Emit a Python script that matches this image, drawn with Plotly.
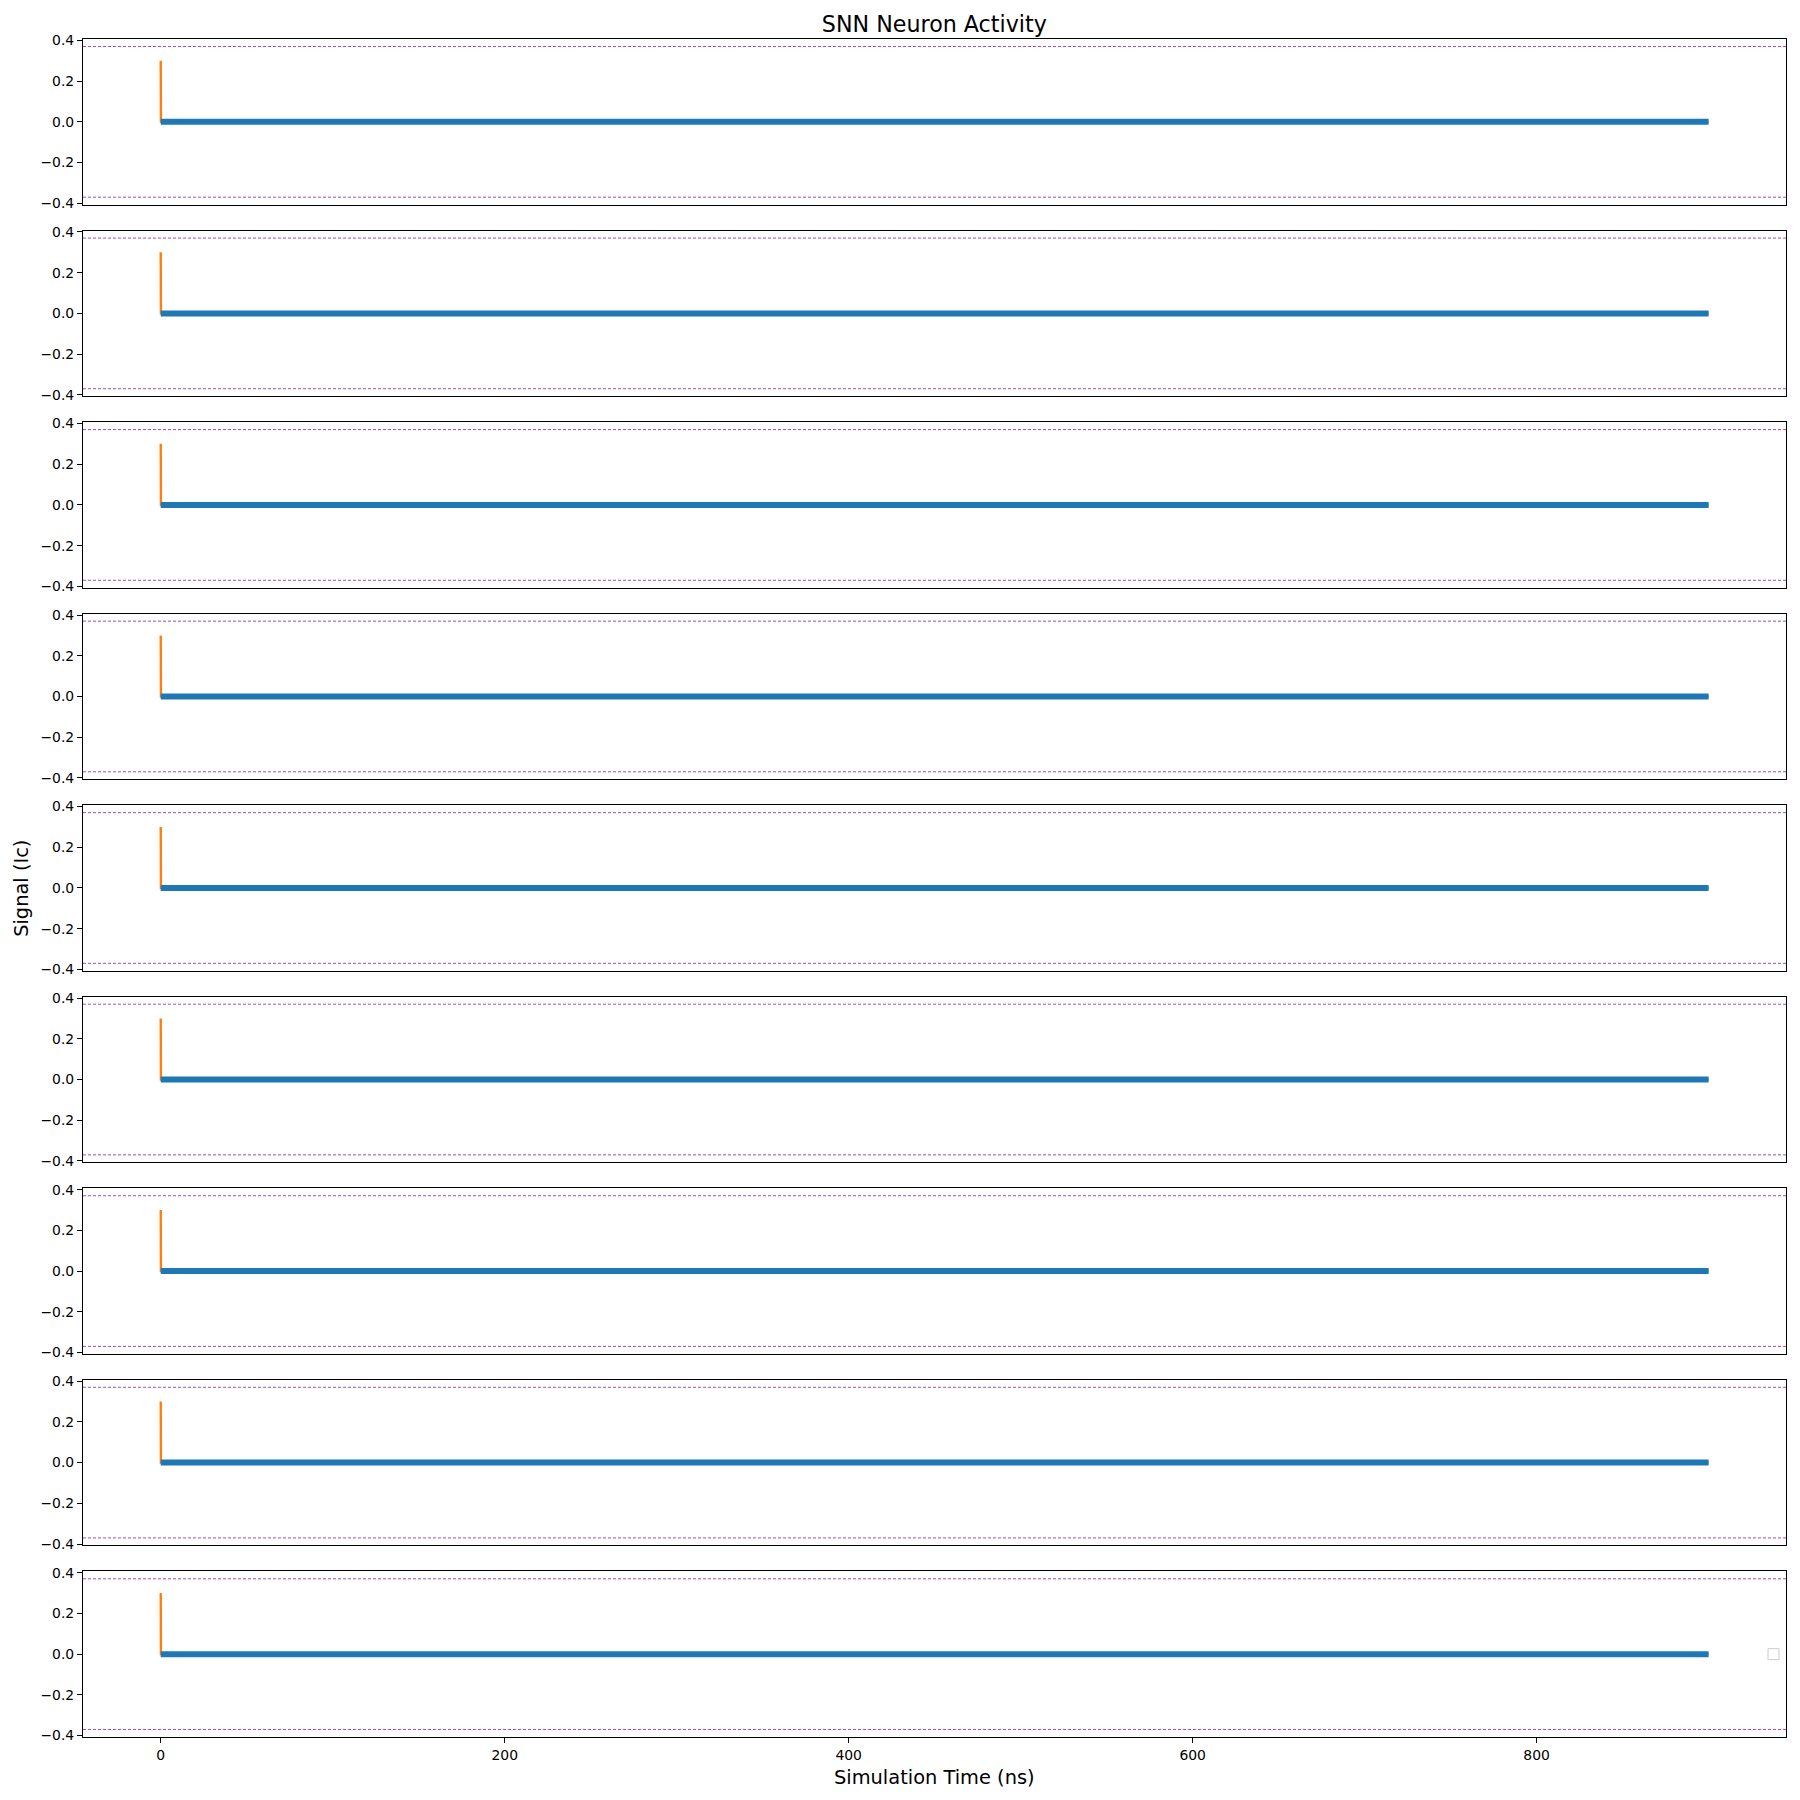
import plotly.graph_objects as go
from plotly.subplots import make_subplots

# ---- data ----
n_neurons = 9
time_blue = [0, 900]          # ns
signal_blue = [0.0, 0.0]      # Ic
time_orange = [0, 0.1, 900]   # ns
signal_orange = [0.3, 0.0, 0.0]
thresholds = [0.37, -0.37]
x_ticks = [0, 200, 400, 600, 800]
y_ticks = [-0.4, -0.2, 0.0, 0.2, 0.4]
y_tick_text = ["\u22120.4", "\u22120.2", "0.0", "0.2", "0.4"]

W, H = 1800, 1800
ml, mr, mt, mb = 83, 14.3, 39.3, 63
ph = H - mt - mb
pw = W - ml - mr
gap = 25.8

fig = make_subplots(rows=n_neurons, cols=1, shared_xaxes=True,
                    vertical_spacing=gap / ph)

for i in range(1, n_neurons + 1):
    fig.add_trace(go.Scatter(x=time_orange, y=signal_orange, mode="lines",
                             line=dict(color="#ff7f0e", width=2.4),
                             showlegend=False), row=i, col=1)
    fig.add_trace(go.Scatter(x=time_blue, y=signal_blue, mode="lines",
                             line=dict(color="#1f77b4", width=6),
                             showlegend=False), row=i, col=1)
    ax = "" if i == 1 else str(i)
    for th in thresholds:
        fig.add_shape(type="line", xref=f"x{ax} domain", yref=f"y{ax}",
                      x0=0, x1=1, y0=th, y1=th,
                      line=dict(color="rgba(128,0,128,0.7)", width=1, dash="3px,2px"))

axis_common = dict(showline=True, linecolor="black", linewidth=1.1, mirror=True,
                   ticks="outside", ticklen=5, tickwidth=1.1, tickcolor="black",
                   showgrid=False, zeroline=False,
                   tickfont=dict(family="DejaVu Sans", size=13.9, color="black"))

fig.update_xaxes(range=[-45.2, 945.0], tickvals=x_ticks, **axis_common)
fig.update_yaxes(range=[-0.407, 0.407], tickvals=y_ticks, ticktext=y_tick_text,
                 **axis_common)
for i in range(1, n_neurons):
    fig.update_xaxes(ticks="", showticklabels=False, row=i, col=1)

# empty legend box (as in reference)
lx0, lx1 = (1767.7 - ml) / pw, (1778.7 - ml) / pw
ly0, ly1 = (H - mb - 1659.7) / ph, (H - mb - 1648.7) / ph
fig.add_shape(type="rect", xref="paper", yref="paper",
              x0=lx0, x1=lx1, y0=ly0, y1=ly1,
              line=dict(color="#cccccc", width=1), fillcolor="white")

fig.add_annotation(text="Simulation Time (ns)", xref="paper", yref="paper",
                   x=0.5, y=(H - mb - 1777) / ph, xanchor="center", yanchor="middle",
                   showarrow=False, font=dict(family="DejaVu Sans", size=19.4, color="black"))
fig.add_annotation(text="Signal (Ic)", xref="paper", yref="paper",
                   x=(22 - ml) / pw, y=(H - mb - 888) / ph, xanchor="center", yanchor="middle",
                   textangle=-90, showarrow=False,
                   font=dict(family="DejaVu Sans", size=19.4, color="black"))

fig.update_layout(
    width=W, height=H,
    margin=dict(l=ml, r=mr, t=mt, b=mb),
    paper_bgcolor="white", plot_bgcolor="white",
    showlegend=False,
    title=dict(text="SNN Neuron Activity", x=0.5 * (ml + W - mr) / W, xanchor="center",
               y=1 - 24 / H, yanchor="middle",
               font=dict(family="DejaVu Sans", size=22.2, color="black")),
    font=dict(family="DejaVu Sans"),
)

fig.write_html("out.html")
